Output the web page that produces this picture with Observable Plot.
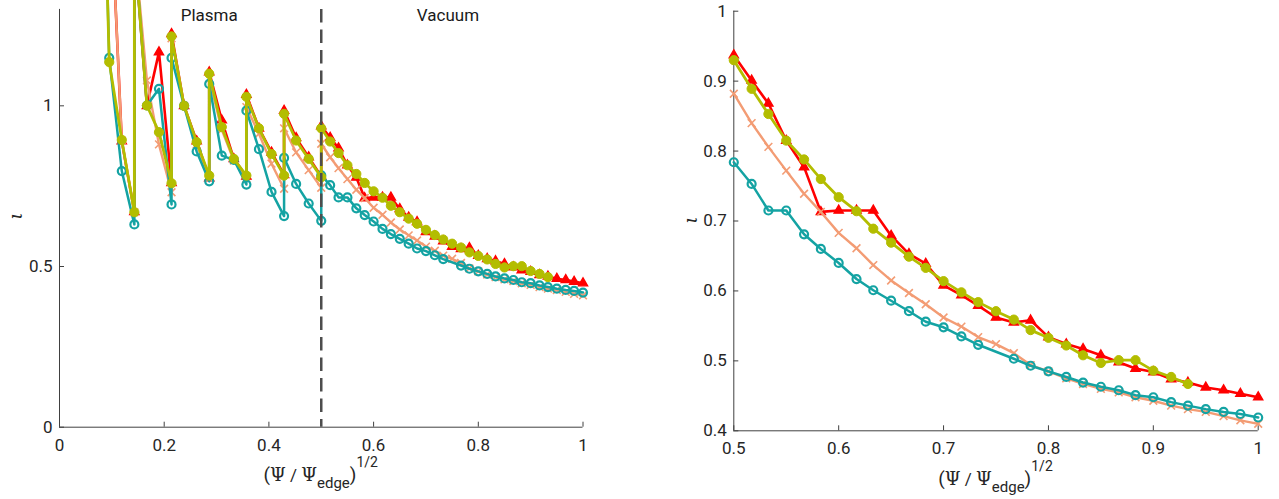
<!DOCTYPE html>
<html><head><meta charset="utf-8">
<script src="https://cdn.jsdelivr.net/npm/d3@7"></script>
<script src="https://cdn.jsdelivr.net/npm/@observablehq/plot@0.6"></script>
<style>
body{margin:0;background:#fff;}
#wrap{display:flex;width:1279px;height:499px;overflow:hidden;}
</style></head><body><div id="wrap"></div>
<script>
// ---- data ----
const plasmaX = [0.071, 0.095, 0.119, 0.143, 0.143, 0.167, 0.190, 0.214, 0.214, 0.238, 0.262, 0.286, 0.286, 0.310, 0.333, 0.357, 0.357, 0.381, 0.405, 0.429, 0.429, 0.452, 0.476, 0.500];
const vacuumX = [0.5, 0.517, 0.533, 0.55, 0.567, 0.583, 0.6, 0.617, 0.633, 0.65, 0.667, 0.683, 0.7, 0.717, 0.733, 0.75, 0.767, 0.783, 0.8, 0.817, 0.833, 0.85, 0.867, 0.883, 0.9, 0.917, 0.933, 0.95, 0.967, 0.983, 1.0];

const redPlasma = [2.5, 1.74, 0.89, 0.67, 1.5, 1.0, 1.167, 0.76, 1.224, 1.0, 0.89, 0.775, 1.105, 0.955, 0.835, 0.78, 1.035, 0.93, 0.855, 0.785, 0.985, 0.90, 0.84, 0.78];
const redVacuum = [0.937, 0.901, 0.868, 0.815, 0.777, 0.713, 0.715, 0.715, 0.715, 0.679, 0.653, 0.639, 0.608, 0.594, 0.579, 0.562, 0.555, 0.558, 0.534, 0.524, 0.517, 0.508, 0.498, 0.489, 0.484, 0.474, 0.469, 0.462, 0.458, 0.453, 0.448];

const orangePlasma = [2.5, 1.74, 0.892, 0.669, 1.5, 1.079, 0.88, 0.731, 1.21, 1.0, 0.88, 0.775, 1.084, 0.925, 0.83, 0.775, 0.996, 0.913, 0.82, 0.742, 0.93, 0.855, 0.80, 0.745];
const orangeVacuum = [0.882, 0.840, 0.806, 0.772, 0.739, 0.713, 0.683, 0.661, 0.637, 0.615, 0.597, 0.581, 0.562, 0.549, 0.534, 0.524, 0.511, 0.494, 0.485, 0.475, 0.467, 0.460, 0.455, 0.448, 0.443, 0.436, 0.431, 0.427, 0.421, 0.415, 0.410];

const tealPlasma = [2.6, 1.149, 0.797, 0.631, 1.5, 1.001, 1.053, 0.693, 1.149, 1.0, 0.858, 0.765, 1.068, 0.845, 0.832, 0.755, 0.985, 0.865, 0.732, 0.657, 0.838, 0.757, 0.696, 0.642];
const tealVacuum = [0.784, 0.753, 0.715, 0.715, 0.681, 0.660, 0.640, 0.617, 0.601, 0.586, 0.571, 0.556, 0.548, 0.535, 0.523, null, 0.503, 0.493, 0.485, 0.477, 0.469, 0.463, 0.458, 0.451, 0.448, 0.441, 0.436, 0.431, 0.427, 0.424, 0.419];

const olivePlasma = [2.6, 1.136, 0.894, 0.669, 1.5, 1.001, 0.918, 0.759, 1.216, 1.0, 0.887, 0.783, 1.10, 0.934, 0.835, 0.783, 1.028, 0.93, 0.85, 0.783, 0.975, 0.892, 0.835, 0.778];
const oliveVacuum = [0.930, 0.889, 0.853, 0.815, 0.788, 0.760, 0.734, 0.714, 0.689, 0.669, 0.649, 0.633, 0.614, 0.598, 0.584, 0.571, 0.559, 0.544, 0.533, 0.522, 0.508, 0.497, 0.501, 0.501, 0.486, 0.477, 0.467, null, null, null, null];

const leftXTicks = [0, 0.2, 0.4, 0.6, 0.8, 1];
const leftYTicks = [0, 0.5, 1];
const rightXTicks = [0.5, 0.6, 0.7, 0.8, 0.9, 1];
const rightYTicks = [0.4, 0.5, 0.6, 0.7, 0.8, 0.9, 1];
const boundary = [0.5];
const annotations = [
  {label: "Plasma", x: 0.286, y: 1.281},
  {label: "Vacuum", x: 0.742, y: 1.281}
];

// ---- styles ----
const seriesDefs = [
  {plasma: redPlasma, vacuum: redVacuum, color: "#ff0000", width: 2.6, symbol: "triangle", r: 3.4, filled: true, mw: 1.4},
  {plasma: orangePlasma, vacuum: orangeVacuum, color: "#f39c74", width: 2.4, symbol: "times", r: 3.6, filled: false, mw: 1.6},
  {plasma: tealPlasma, vacuum: tealVacuum, color: "#14a3a3", width: 2.5, symbol: "circle", r: 4, filled: false, mw: 2.2},
  {plasma: olivePlasma, vacuum: oliveVacuum, color: "#b3bd00", width: 2.8, symbol: "circle", r: 4.6, filled: true, mw: 1}
];

function rows(xs, ys) {
  return xs.map((x, i) => ({x, y: ys[i]})).filter(d => d.y != null);
}

function seriesMarks(data, s) {
  return [
    Plot.line(data, {x: "x", y: "y", stroke: s.color, strokeWidth: s.width, strokeLinejoin: "round"}),
    Plot.dot(data, {x: "x", y: "y", symbol: s.symbol, r: s.r, fill: s.filled ? s.color : "none", stroke: s.color, strokeWidth: s.mw})
  ];
}

const axisColor = "#404040";
const textColor = "#262626";

function axes(xt, yt, x0, y0) {
  return [
    Plot.ruleY([y0], {stroke: axisColor, strokeWidth: 1}),
    Plot.ruleX([x0], {stroke: axisColor, strokeWidth: 1}),
    Plot.axisX({ticks: xt, tickSize: -5, tickPadding: 16.6, tickFormat: d => String(d), stroke: axisColor, fill: textColor, fontSize: 17, label: null}),
    Plot.axisY({ticks: yt, tickSize: -5, tickPadding: 12, tickFormat: d => String(d), stroke: axisColor, fill: textColor, fontSize: 17, label: null})
  ];
}

const commonStyle = {fontFamily: "Roboto, sans-serif", fontSize: "17px", color: textColor, overflow: "hidden", background: "white"};

const leftPlot = Plot.plot({
  width: 640, height: 499,
  marginLeft: 59, marginRight: 57.5, marginTop: 8.9, marginBottom: 72.3,
  x: {domain: [0, 1]},
  y: {domain: [0, 1.3]},
  style: commonStyle,
  marks: [
    ...axes(leftXTicks, leftYTicks, 0, 0),
    ...seriesDefs.flatMap(s => seriesMarks(rows(plasmaX, s.plasma).concat(rows(vacuumX, s.vacuum)), s)),
    Plot.ruleX(boundary, {stroke: "#4d4d4d", strokeWidth: 2.5, strokeDasharray: "13.5,7"}),
    Plot.text(annotations, {x: "x", y: "y", text: "label", fontSize: 17, fill: "#1a1a1a"})
  ]
});

const rightPlot = Plot.plot({
  width: 639, height: 499,
  marginLeft: 93.3, marginRight: 21.3, marginTop: 10.7, marginBottom: 68.7,
  x: {domain: [0.5, 1]},
  y: {domain: [0.4, 1]},
  style: commonStyle,
  marks: [
    ...axes(rightXTicks, rightYTicks, 0.5, 0.4),
    ...seriesDefs.flatMap(s => seriesMarks(rows(vacuumX, s.vacuum), s))
  ]
});

function addLabels(svg, cx, baseY, ylx, yly) {
  const s = d3.select(svg);
  const t = s.append("text").attr("x", cx).attr("y", baseY).attr("text-anchor", "middle")
    .attr("font-family", "Roboto, sans-serif").attr("font-size", 17).attr("fill", textColor);
  t.append("tspan").attr("font-size", 19).text("(");
  t.append("tspan").attr("font-family", "DejaVu Serif, serif").attr("font-size", 18).text("Ψ");
  t.append("tspan").text(" / ");
  t.append("tspan").attr("font-family", "DejaVu Serif, serif").attr("font-size", 18).text("Ψ");
  t.append("tspan").attr("font-size", 15).attr("dy", 7).text("edge");
  t.append("tspan").attr("font-size", 19).attr("dy", -7).text(")");
  t.append("tspan").attr("font-size", 14).attr("dy", -14).text("1/2");
  s.append("text").attr("transform", `translate(${ylx},${yly}) rotate(-90)`)
    .attr("text-anchor", "middle").attr("dominant-baseline", "central")
    .attr("font-family", "DejaVu Serif, serif").attr("font-style", "italic").attr("font-size", 19).attr("fill", textColor)
    .text("ι");
}
addLabels(leftPlot, 320.7, 481, 15, 216);
addLabels(rightPlot, 355.5, 484.5, 50, 220);

const wrap = document.getElementById("wrap");
wrap.appendChild(leftPlot);
wrap.appendChild(rightPlot);
</script>
</body></html>
